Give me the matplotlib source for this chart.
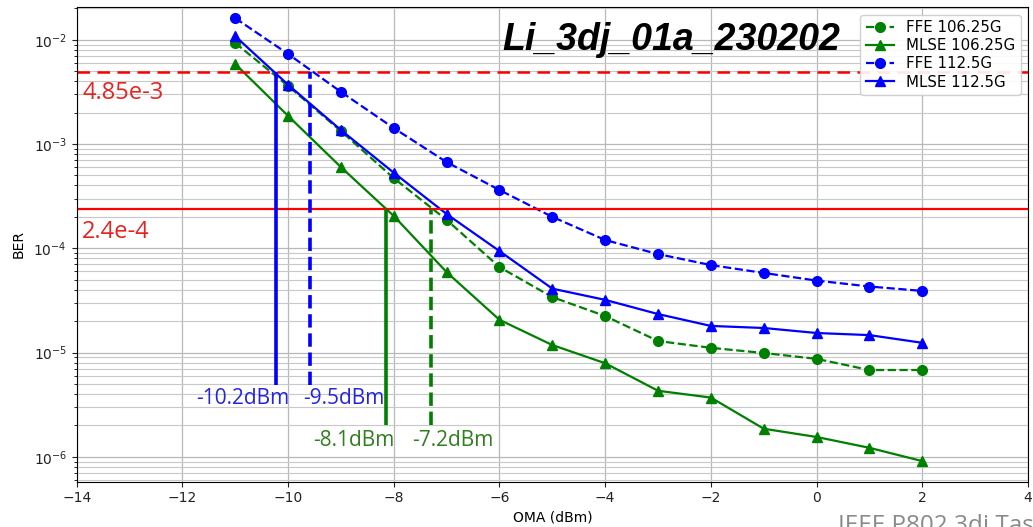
import matplotlib
matplotlib.use("Agg")
import matplotlib.pyplot as plt
import numpy as np

# ---------------- data ----------------
oma = [-11, -10, -9, -8, -7, -6, -5, -4, -3, -2, -1, 0, 1, 2]

ffe_106 = [9.3e-3, 3.6e-3, 1.33e-3, 4.7e-4, 1.87e-4, 6.6e-5, 3.4e-5, 2.24e-5,
           1.29e-5, 1.11e-5, 9.9e-6, 8.7e-6, 6.8e-6, 6.8e-6]
mlse_106 = [5.85e-3, 1.86e-3, 6.0e-4, 2.04e-4, 5.9e-5, 2.06e-5, 1.18e-5, 7.9e-6,
            4.3e-6, 3.7e-6, 1.86e-6, 1.55e-6, 1.22e-6, 9.1e-7]
ffe_112 = [1.61e-2, 7.3e-3, 3.16e-3, 1.42e-3, 6.7e-4, 3.62e-4, 2.0e-4, 1.2e-4,
           8.8e-5, 6.9e-5, 5.8e-5, 4.9e-5, 4.3e-5, 3.9e-5]
mlse_112 = [1.08e-2, 3.7e-3, 1.36e-3, 5.3e-4, 2.13e-4, 9.4e-5, 4.1e-5, 3.2e-5,
            2.34e-5, 1.8e-5, 1.72e-5, 1.54e-5, 1.47e-5, 1.24e-5]

thr_hi = 4.85e-3
thr_lo = 2.4e-4
thr_labels = ["4.85e-3", "2.4e-4"]

# sensitivity markers: x position, top BER, bottom BER
sens_x = [-10.23, -9.58, -8.15, -7.3]
sens_top = [thr_hi, thr_hi, thr_lo, thr_lo]
sens_bot = [4.9e-6, 4.9e-6, 2.0e-6, 2.0e-6]
sens_labels = ["-10.2dBm", "-9.5dBm", "-8.1dBm", "-7.2dBm"]

x_ticks = [-14, -12, -10, -8, -6, -4, -2, 0, 2, 4]

# ---------------- figure ----------------
W, H = 1033, 527
fig = plt.figure(figsize=(W / 100, H / 100), dpi=100)
ax = fig.add_axes([76.7 / W, 1 - 481.5 / H, (1028 - 76.7) / W, (481.5 - 7) / H])

ax.set_yscale("log")
ax.set_xlim(-14, 4)
ax.set_ylim(5.8e-7, 2.06e-2)
ax.set_xticks(x_ticks)

ax.grid(True, which="major", color="#b8b8b8", lw=0.9)
ax.grid(True, which="minor", axis="y", color="#c8c8c8", lw=0.8)
ax.set_axisbelow(True)

green = "#008000"
blue = "#0000ff"

ax.plot(oma, ffe_106, "--o", color=green, lw=1.6, ms=7, label="FFE 106.25G")
ax.plot(oma, mlse_106, "-^", color=green, lw=1.6, ms=7, label="MLSE 106.25G")
ax.plot(oma, ffe_112, "--o", color=blue, lw=1.6, ms=7, label="FFE 112.5G")
ax.plot(oma, mlse_112, "-^", color=blue, lw=1.6, ms=7, label="MLSE 112.5G")

ax.axhline(thr_hi, color="red", ls="--", lw=1.8, dashes=(5, 3))
ax.axhline(thr_lo, color="red", ls="-", lw=1.6)

sens_colors = [blue, blue, green, green]
sens_styles = ["-", "--", "-", "--"]
for xv, t, b, c, s in zip(sens_x, sens_top, sens_bot, sens_colors, sens_styles):
    ax.vlines(xv, b, t, colors=c, linestyles=s, lw=2.6)

ax.tick_params(labelsize=10, colors="#222222")
ax.set_xlabel("OMA (dBm)", fontsize=10, labelpad=4)
ax.set_ylabel("BER", fontsize=10, labelpad=6)

leg = ax.legend(loc="upper right", fontsize=10.8, framealpha=0.9,
                borderaxespad=0.5, handlelength=1.9, labelspacing=0.22,
                borderpad=0.35)

# ---- overlay annotations (presentation text) ----
ofont = ["Open Sans", "DejaVu Sans"]
red_txt = "#e8221e"
blue_txt = "#2424e0"
green_txt = "#2f7f1f"

def px2data(px, py):
    disp = fig.transFigure.transform((px / W, 1 - py / H))
    return ax.transData.inverted().transform(disp)

for lab, (px, py) in zip(thr_labels, [(82, 93), (82, 232)]):
    x, y = px2data(px, py)
    ax.text(x, y, lab, color=red_txt, fontsize=17, family=ofont,
            ha="left", va="center")

label_pos = [(243, 398), (344, 398), (354, 440), (453, 440)]
for lab, c, (px, py) in zip(sens_labels, [blue_txt, blue_txt, green_txt, green_txt], label_pos):
    x, y = px2data(px, py)
    ax.text(x, y, lab, color=c, fontsize=15, family=ofont,
            ha="center", va="center")

fig.text(671 / W, 1 - 50 / H, "Li_3dj_01a_230202", fontsize=27,
         family=["Liberation Sans", "DejaVu Sans"], weight="bold",
         style="italic", ha="center", va="baseline")

fig.text(838 / W, 1 - 514 / H, "IEEE P802.3dj Task Force", fontsize=17.5,
         family=ofont, color="#8a8a8a", ha="left", va="top")

fig.savefig("out.png", dpi=100)
